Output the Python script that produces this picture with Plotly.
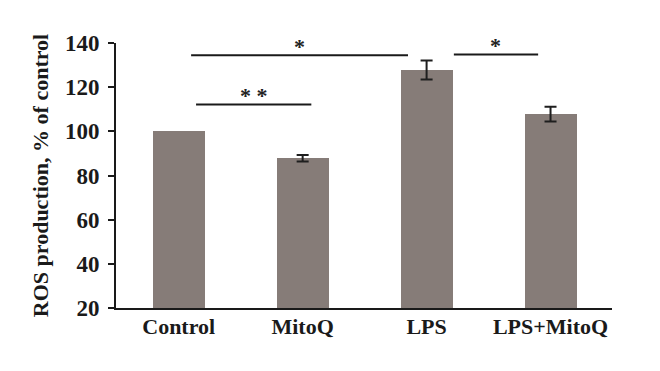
import plotly.graph_objects as go

categories = ["Control", "MitoQ", "LPS", "LPS+MitoQ"]
values = [100.0, 87.8, 127.8, 107.8]
errors = [0.0, 1.5, 4.3, 3.3]
y_ticks = [20, 40, 60, 80, 100, 120, 140]

# significance brackets: (x start, x end, y, label)
brackets = [
    (0.10, 1.85, 134.5, "*"),
    (0.14, 1.07, 112.2, "* *"),
    (2.22, 2.90, 134.8, "*"),
]

FONT = "Liberation Serif"
xs = list(range(len(categories)))
fig = go.Figure()
fig.add_trace(go.Bar(
    x=xs, y=values, width=0.42,
    marker=dict(color="#867c78", line=dict(width=0)),
))
err_idx = [i for i, e in enumerate(errors) if e > 0]
fig.add_trace(go.Scatter(
    x=[xs[i] for i in err_idx], y=[values[i] for i in err_idx],
    mode="markers", marker=dict(size=0.1, opacity=0),
    error_y=dict(type="data", array=[errors[i] for i in err_idx],
                 visible=True, color="#1e1e1e", thickness=2, width=6),
    hoverinfo="skip",
))

for x0, x1, y, lab in brackets:
    fig.add_shape(type="line", x0=x0, x1=x1, y0=y, y1=y,
                  line=dict(color="#1a1a1a", width=2), xref="x", yref="y")
    fig.add_annotation(x=(x0 + x1) / 2, y=y, text=lab, showarrow=False,
                       yanchor="bottom", yshift=-6,
                       font=dict(family=FONT, size=22, color="#222", weight="bold"))

fig.update_layout(
    width=652, height=363,
    margin=dict(l=108, r=48, t=35, b=63),
    plot_bgcolor="white", paper_bgcolor="white",
    showlegend=False,
    bargap=0,
    font=dict(family=FONT, size=22, color="#1a1a1a"),
)
fig.update_xaxes(
    range=[-0.506, 3.496], automargin=False,
    tickmode="array", tickvals=xs, ticktext=categories,
    tickfont=dict(family=FONT, size=22, color="#1a1a1a", weight="bold"),
    showline=True, linecolor="#1a1a1a", linewidth=2, ticks="", showgrid=False,
    zeroline=False, ticklabelstandoff=-2,
)
fig.update_yaxes(
    range=[20, 140], tickmode="array", tickvals=y_ticks, automargin=False,
    tickfont=dict(family=FONT, size=23, color="#1a1a1a", weight="bold"),
    showline=True, linecolor="#1a1a1a", linewidth=2, ticks="outside",
    ticklen=6, tickwidth=2, tickcolor="#1a1a1a", showgrid=False, zeroline=False,
    ticklabelstandoff=4,
    title=dict(text="ROS production, % of control",
               font=dict(family=FONT, size=22, color="#1a1a1a", weight="bold"),
               standoff=10),
)

fig.write_html("out.html")
